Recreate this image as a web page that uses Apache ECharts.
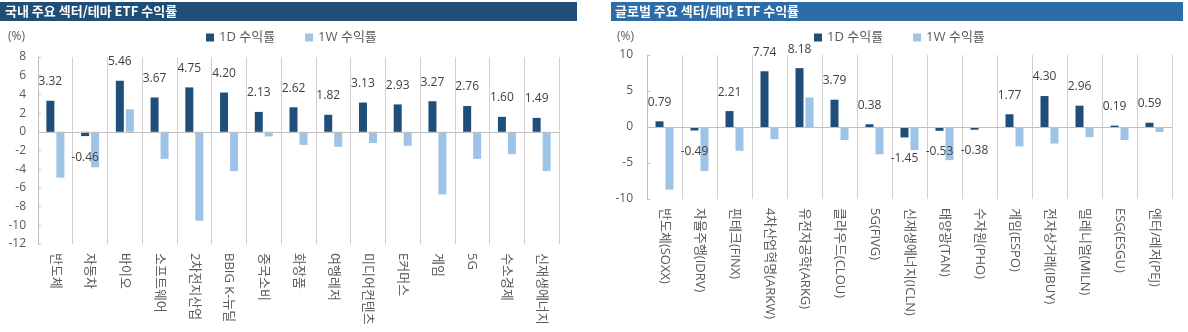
<!DOCTYPE html>
<html><head><meta charset="utf-8">
<script src="https://cdn.jsdelivr.net/npm/echarts@6/dist/echarts.min.js"></script>
<style>html,body{margin:0;padding:0;background:#fff}#c{width:1188px;height:332px}</style>
</head><body><div id="c"></div>
<script>
// ---- data ----
const leftTitle = '국내 주요 섹터/테마 ETF 수익률';
const rightTitle = '글로벌 주요 섹터/테마 ETF 수익률';
const seriesNames = ['1D 수익률', '1W 수익률'];

const leftCategories = ['반도체','자동차','바이오','소프트웨어','2차전지산업','BBIG K-뉴딜','중국소비','화장품','여행레저','미디어컨텐츠','E커머스','게임','5G','수소경제','신재생에너지'];
const left1D = [3.32,-0.46,5.46,3.67,4.75,4.20,2.13,2.62,1.82,3.13,2.93,3.27,2.76,1.60,1.49];
const left1W = [-4.9,-3.8,2.4,-2.9,-9.5,-4.2,-0.5,-1.4,-1.6,-1.2,-1.5,-6.7,-2.9,-2.4,-4.2];

const rightCategories = ['반도체(SOXX)','자율주행(IDRV)','핀테크(FINX)','4차산업혁명(ARKW)','유전자공학(ARKG)','클라우드(CLOU)','5G(FIVG)','신재생에너지(ICLN)','태양광(TAN)','수자원(PHO)','게임(ESPO)','전자상거래(IBUY)','밀레니얼(MILN)','ESG(ESGU)','엔터/레저(PEJ)'];
const right1D = [0.79,-0.49,2.21,7.74,8.18,3.79,0.38,-1.45,-0.53,-0.38,1.77,4.30,2.96,0.19,0.59];
const right1W = [-8.7,-6.1,-3.3,-1.7,4.1,-1.8,-3.8,-3.2,-4.6,-0.05,-2.7,-2.3,-1.4,-1.8,-0.7];

const leftYTicks = {min:-12, max:8, interval:2};
const rightYTicks = {min:-10, max:10, interval:5};

// ---- styles ----
const DARK = '#1f4e79', LIGHT = '#9dc3e6';
const FONT = "'Open Sans','Noto Sans CJK KR',sans-serif";
const GRAY = '#595959', LINE = '#d0d0d0';

function labeled(arr){
  return arr.map(v => ({
    value: v,
    label: { position: v < 0 ? 'bottom' : 'top', distance: v < 0 ? 15 : 13 }
  }));
}

function xAxisFor(cats, gi){
  return {
    type:'category', gridIndex:gi, data:cats, position:'bottom',
    axisLine:{show:false}, axisTick:{show:false},
    axisLabel:{rotate:-90, interval:0, margin:9, fontSize:13, color:GRAY, fontFamily:FONT},
    splitLine:{show:true, interval:0, lineStyle:{color:LINE, width:1}}
  };
}
function yAxisFor(t, gi, margin){
  return {
    type:'value', gridIndex:gi, min:t.min, max:t.max, interval:t.interval,
    axisLine:{show:true, lineStyle:{color:'#bfbfbf'}},
    axisTick:{show:true, inside:true, length:3, lineStyle:{color:'#bfbfbf'}},
    axisLabel:{fontSize:12, color:GRAY, margin:margin, fontFamily:FONT},
    splitLine:{show:false}
  };
}
function seriesFor(d1, dw, gi){
  return [
    { name:seriesNames[0], type:'bar', xAxisIndex:gi, yAxisIndex:gi, data:labeled(d1),
      barWidth:8, barGap:'25%', itemStyle:{color:DARK},
      label:{show:true, formatter:p=>p.value.toFixed(2), fontSize:12, color:'#404040', fontFamily:FONT},
      markLine:{silent:true, symbol:'none', label:{show:false},
        lineStyle:{color:'#bfbfbf', type:'solid', width:1}, data:[{yAxis:0}]},
      animation:false },
    { name:seriesNames[1], type:'bar', xAxisIndex:gi, yAxisIndex:gi, data:dw,
      barWidth:8, barGap:'25%', itemStyle:{color:LIGHT}, animation:false }
  ];
}

const option = {
  animation:false,
  textStyle:{fontFamily:FONT},
  grid:[
    {left:38, right:1188-559, top:57, height:187, containLabel:false},
    {left:647, right:1188-1172, top:55, height:144, containLabel:false}
  ],
  legend:[
    {left:201, top:26, itemWidth:8, itemHeight:8, itemGap:30, icon:'rect',
     data:seriesNames, textStyle:{fontSize:13, color:GRAY, fontFamily:FONT}},
    {left:809, top:26, itemWidth:8, itemHeight:8, itemGap:30, icon:'rect',
     data:seriesNames, textStyle:{fontSize:13, color:GRAY, fontFamily:FONT}}
  ],
  xAxis:[xAxisFor(leftCategories,0), xAxisFor(rightCategories,1)],
  yAxis:[yAxisFor(leftYTicks,0,12), yAxisFor(rightYTicks,1,14)],
  series:[...seriesFor(left1D,left1W,0), ...seriesFor(right1D,right1W,1)],
  graphic:[
    {type:'rect', shape:{x:0,y:2,width:577,height:19}, style:{fill:'#1f4e79'}, silent:true},
    {type:'text', x:5, y:11.5, style:{text:leftTitle, fill:'#fff', font:"bold 13px 'Noto Sans CJK KR',sans-serif", textVerticalAlign:'middle'}, silent:true},
    {type:'rect', shape:{x:611,y:2,width:572,height:19}, style:{fill:'#2e6ca8'}, silent:true},
    {type:'text', x:615, y:11.5, style:{text:rightTitle, fill:'#fff', font:"bold 13px 'Noto Sans CJK KR',sans-serif", textVerticalAlign:'middle'}, silent:true},
    {type:'text', x:8, y:37, style:{text:'(%)', fill:GRAY, font:"12px "+FONT, textVerticalAlign:'middle'}, silent:true},
    {type:'text', x:617, y:37, style:{text:'(%)', fill:GRAY, font:"12px "+FONT, textVerticalAlign:'middle'}, silent:true}
  ]
};
const chart = echarts.init(document.getElementById('c'), null, {renderer:'canvas'});
chart.setOption(option);
</script></body></html>
